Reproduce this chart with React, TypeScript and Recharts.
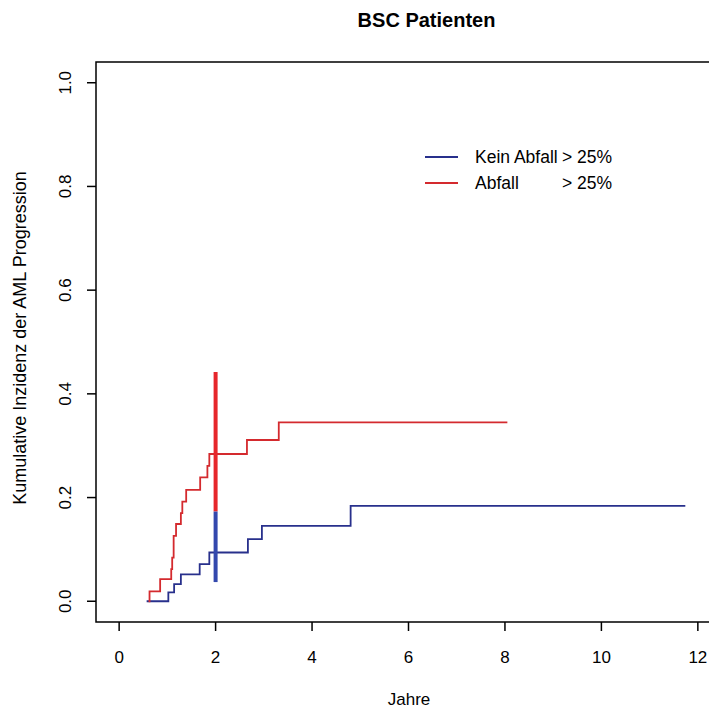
import React from "react";
import { LineChart, Line, XAxis, YAxis, ReferenceArea } from "recharts";

// Kumulative Inzidenz – Abfall > 25% (rot)
const redSeries = [
  { x: 0.61, y: 0 },
  { x: 0.63, y: 0.019 },
  { x: 0.85, y: 0.0425 },
  { x: 1.08, y: 0.062 },
  { x: 1.1, y: 0.084 },
  { x: 1.13, y: 0.126 },
  { x: 1.18, y: 0.149 },
  { x: 1.28, y: 0.17 },
  { x: 1.31, y: 0.192 },
  { x: 1.39, y: 0.215 },
  { x: 1.68, y: 0.239 },
  { x: 1.83, y: 0.261 },
  { x: 1.87, y: 0.284 },
  { x: 2.65, y: 0.311 },
  { x: 3.31, y: 0.345 },
  { x: 8.05, y: 0.345 },
];

// Kein Abfall > 25% (blau)
const blueSeries = [
  { x: 0.57, y: 0 },
  { x: 1.02, y: 0.017 },
  { x: 1.14, y: 0.033 },
  { x: 1.28, y: 0.052 },
  { x: 1.67, y: 0.0715 },
  { x: 1.87, y: 0.094 },
  { x: 2.67, y: 0.12 },
  { x: 2.96, y: 0.1455 },
  { x: 4.8, y: 0.184 },
  { x: 11.74, y: 0.184 },
];

// Konfidenzintervalle bei 2 Jahren
const redCI = [
  { x: 2, y: 0.173 },
  { x: 2, y: 0.442 },
];
const blueCI = [
  { x: 2, y: 0.037 },
  { x: 2, y: 0.173 },
];

const xTicks = [0, 2, 4, 6, 8, 10, 12];
const yTicks = [0, 0.2, 0.4, 0.6, 0.8, 1.0];
const xDomain: [number, number] = [-0.48, 12.48];
const yDomain: [number, number] = [-0.04, 1.04];

const legendItems = [
  { label: "Kein Abfall", suffix: "> 25%", color: "#28308c" },
  { label: "Abfall", suffix: "> 25%", color: "#d42a2e" },
];

const FONT = "'Liberation Sans', Arial, Helvetica, sans-serif";

const W = 721;
const H = 706;

const YTick = (props: any) => {
  const { x, y, payload } = props;
  const cx = x - 20;
  return (
    <text
      x={cx}
      y={y}
      transform={`rotate(-90, ${cx}, ${y})`}
      textAnchor="middle"
      dy="0.36em"
      fontSize={17}
      fontFamily={FONT}
      fill="#000"
    >
      {Number(payload.value).toFixed(1)}
    </text>
  );
};

export default function App() {
  return (
    <div style={{ width: 701, height: H, overflow: "hidden", position: "absolute", background: "#fff" }}>
      <LineChart
        width={W}
        height={H}
        margin={{ top: 54, right: 8, bottom: 62, left: 28 }}
        style={{ fontFamily: FONT }}
      >
        <XAxis
          dataKey="x"
          type="number"
          domain={xDomain}
          ticks={xTicks}
          allowDataOverflow
          axisLine={false}
          tickLine={{ stroke: "#000", strokeWidth: 1.5 }}
          tickSize={9}
          tickMargin={20}
          height={30}
          tick={{ fontSize: 17, fill: "#000", fontFamily: FONT }}
        />
        <YAxis
          dataKey="y"
          type="number"
          domain={yDomain}
          ticks={yTicks}
          allowDataOverflow
          axisLine={false}
          tickLine={{ stroke: "#000", strokeWidth: 1.5 }}
          tickSize={9}
          width={60}
          tick={<YTick />}
        />
        <ReferenceArea
          x1={xDomain[0]}
          x2={xDomain[1]}
          y1={yDomain[0]}
          y2={yDomain[1]}
          fill="none"
          fillOpacity={0}
          stroke="#000"
          strokeWidth={1.5}
          ifOverflow="visible"
        />
        <Line
          data={blueSeries}
          dataKey="y"
          type="stepAfter"
          stroke="#28308c"
          strokeWidth={1.8}
          dot={false}
          isAnimationActive={false}
        />
        <Line
          data={redSeries}
          dataKey="y"
          type="stepAfter"
          stroke="#d42a2e"
          strokeWidth={1.8}
          dot={false}
          isAnimationActive={false}
        />
        <Line
          data={redCI}
          dataKey="y"
          type="linear"
          stroke="#e6262b"
          strokeWidth={4}
          dot={false}
          isAnimationActive={false}
        />
        <Line
          data={blueCI}
          dataKey="y"
          type="linear"
          stroke="#3348ad"
          strokeWidth={4}
          dot={false}
          isAnimationActive={false}
        />
      </LineChart>
      <svg
        width={W}
        height={H}
        style={{ position: "absolute", left: 0, top: 0, pointerEvents: "none" }}
      >
        <text x={418.5} y={19} textAnchor="middle" fontSize={20} fontWeight="bold" fontFamily={FONT} fill="#000">
          BSC Patienten
        </text>
        <text
          x={12}
          y={330}
          transform="rotate(-90, 12, 330)"
          textAnchor="middle"
          dy="0.36em"
          fontSize={18}
          fontFamily={FONT}
          fill="#000"
        >
          Kumulative Inzidenz der AML Progression
        </text>
        <text x={401} y={697} textAnchor="middle" fontSize={17} fontFamily={FONT} fill="#000">
          Jahre
        </text>
        {legendItems.map((it, i) => (
          <g key={it.label}>
            <line x1={417} x2={450} y1={149 + i * 26} y2={149 + i * 26} stroke={it.color} strokeWidth={1.8} />
            <text x={467} y={155 + i * 26} fontSize={17.5} fontFamily={FONT} fill="#000">
              {it.label}
            </text>
            <text x={604} y={155 + i * 26} textAnchor="end" fontSize={17.5} fontFamily={FONT} fill="#000">
              {it.suffix}
            </text>
          </g>
        ))}
      </svg>
    </div>
  );
}
